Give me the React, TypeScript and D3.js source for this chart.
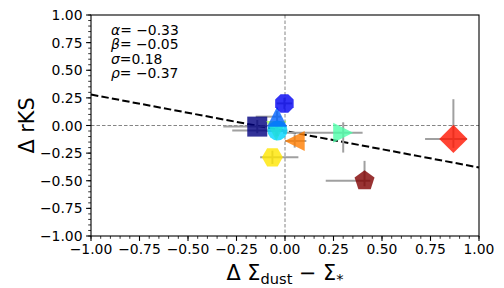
import React from "react";
import * as d3 from "d3";

// fit coefficients shown in the corner
const statNames = ["α", "β", "σ", "ρ"];
const statValues = ["= −0.33", "= −0.05", "=0.18", "= −0.37"];
const alpha = -0.33;
const beta = -0.05;

// one entry per galaxy group (jet colours, matplotlib markers)
const markers = ["s", "v", "o", "^", "8", ">", "H", "<", "D", "p"];
const colors = ["#000080", "#a9ff4d", "#00d4ff", "#0063ff", "#0000f1", "#4dffa9", "#ffe600", "#ff7d00", "#ff1400", "#800000"];
const xVals = [-0.143, -0.045, -0.039, -0.041, -0.003, 0.3, -0.065, 0.05, 0.868, 0.41];
const yVals = [-0.01, -0.05, -0.045, 0.08, 0.2, -0.065, -0.288, -0.14, -0.122, -0.5];
const xErrLow = [0.175, 0.05, 0.233, 0.11, 0.04, 0.31, 0.063, 0.05, 0.146, 0.2];
const xErrHigh = [0.05, 0.05, 0.05, 0.02, 0.04, 0.1, 0.134, 0.06, 0.07, 0.03];
const yErrLow = [0.06, 0.05, 0.05, 0.05, 0.05, 0.18, 0.06, 0.06, 0.08, 0.05];
const yErrHigh = [0.06, 0.05, 0.05, 0.05, 0.05, 0.094, 0.06, 0.06, 0.36, 0.18];

const ticks = [-1, -0.75, -0.5, -0.25, 0, 0.25, 0.5, 0.75, 1];

const W = 504;
const H = 288;
const m = { left: 91, right: 479, top: 15, bottom: 236 };
const font = "DejaVu Sans";

const fmt = (v: number) => d3.format(".2f")(v).replace("-", "−");

function polygon(n: number, r: number, rot: number) {
  const pts: [number, number][] = [];
  for (let i = 0; i < n; i++) {
    const a = rot + (i * 2 * Math.PI) / n;
    pts.push([r * Math.sin(a), -r * Math.cos(a)]);
  }
  return "M" + pts.map((p) => p.join(",")).join("L") + "Z";
}

function markerPath(k: string, ms: number) {
  const h = ms / 2;
  switch (k) {
    case "s":
      return `M${-h},${-h}H${h}V${h}H${-h}Z`;
    case "D":
      return polygon(4, h * Math.SQRT2, 0);
    case "^":
      return `M0,${-h}L${h},${h}L${-h},${h}Z`;
    case "v":
      return `M0,${h}L${h},${-h}L${-h},${-h}Z`;
    case "<":
      return `M${-h},0L${h},${-h}L${h},${h}Z`;
    case ">":
      return `M${h},0L${-h},${-h}L${-h},${h}Z`;
    case "8":
      return polygon(8, h, Math.PI / 8);
    case "H":
      return polygon(6, h * 1.05, Math.PI / 6);
    case "p":
      return polygon(5, h * 1.05, 0);
    default:
      return d3.arc()({ innerRadius: 0, outerRadius: h, startAngle: 0, endAngle: 2 * Math.PI }) as string;
  }
}

export default function App() {
  const x = d3.scaleLinear().domain([-1, 1]).range([m.left, m.right]);
  const y = d3.scaleLinear().domain([-1, 1]).range([m.bottom, m.top]);
  const minor = d3.range(-1, 1.0001, 0.05);
  const fitLine = d3.line<number>().x((d) => x(d)).y((d) => y(alpha * d + beta));

  return (
    <svg width={W} height={H} style={{ position: "absolute", left: 0, top: 0 }} fontFamily={font}>
      <rect width={W} height={H} fill="white" />
      {/* zero reference lines */}
      <line x1={x(0)} x2={x(0)} y1={m.top} y2={m.bottom} stroke="#777" strokeWidth={0.9} strokeDasharray="3.5,2" />
      <line x1={m.left} x2={m.right} y1={y(0)} y2={y(0)} stroke="#777" strokeWidth={0.9} strokeDasharray="3.5,2" />
      {/* fit */}
      <path d={fitLine([-1, 1]) as string} stroke="black" strokeWidth={2} strokeDasharray="7.4,3.2" fill="none" />
      {/* error bars */}
      {xVals.map((v, i) => (
        <g key={"e" + i} stroke="#a0a0a0" strokeWidth={2}>
          <line x1={x(v - xErrLow[i])} x2={x(v + xErrHigh[i])} y1={y(yVals[i])} y2={y(yVals[i])} />
          <line x1={x(v)} x2={x(v)} y1={y(yVals[i] - yErrLow[i])} y2={y(yVals[i] + yErrHigh[i])} />
        </g>
      ))}
      {/* markers */}
      {xVals.map((v, i) => (
        <path
          key={"m" + i}
          d={markerPath(markers[i], 20)}
          transform={`translate(${x(v)},${y(yVals[i])})`}
          fill={colors[i]}
          fillOpacity={0.8}
        />
      ))}
      {/* axes frame */}
      <rect x={m.left} y={m.top} width={m.right - m.left} height={m.bottom - m.top} fill="none" stroke="black" strokeWidth={1.1} />
      {minor.map((t, i) => (
        <g key={"mt" + i} stroke="black" strokeWidth={0.8}>
          <line x1={x(t)} x2={x(t)} y1={m.bottom} y2={m.bottom + 2.8} />
          <line x1={m.left} x2={m.left - 2.8} y1={y(t)} y2={y(t)} />
        </g>
      ))}
      {ticks.map((t) => (
        <g key={"t" + t}>
          <line x1={x(t)} x2={x(t)} y1={m.bottom} y2={m.bottom + 4.9} stroke="black" strokeWidth={1.1} />
          <line x1={m.left} x2={m.left - 4.9} y1={y(t)} y2={y(t)} stroke="black" strokeWidth={1.1} />
          <text x={x(t)} y={m.bottom + 18} fontSize={13.9} textAnchor="middle">
            {fmt(t)}
          </text>
          <text x={m.left - 8.5} y={y(t) + 5} fontSize={13.9} textAnchor="end">
            {fmt(t)}
          </text>
        </g>
      ))}
      {/* stats */}
      {statNames.map((s, i) => (
        <text key={"s" + i} x={111} y={34.5 + i * 14.5} fontSize={13.9}>
          <tspan fontStyle="italic">{s}</tspan>
          <tspan>{statValues[i]}</tspan>
        </text>
      ))}
      {/* axis labels */}
      <text x={(m.left + m.right) / 2} y={280} fontSize={20.8} textAnchor="middle">
        Δ Σ<tspan fontSize={14.6} dy={4}>dust</tspan>
        <tspan dy={-4}> − Σ</tspan>
        <tspan fontSize={14.6} dy={4}>*</tspan>
      </text>
      <text transform={`translate(34,${(m.top + m.bottom) / 2}) rotate(-90)`} fontSize={20.8} textAnchor="middle">
        Δ rKS
      </text>
    </svg>
  );
}
